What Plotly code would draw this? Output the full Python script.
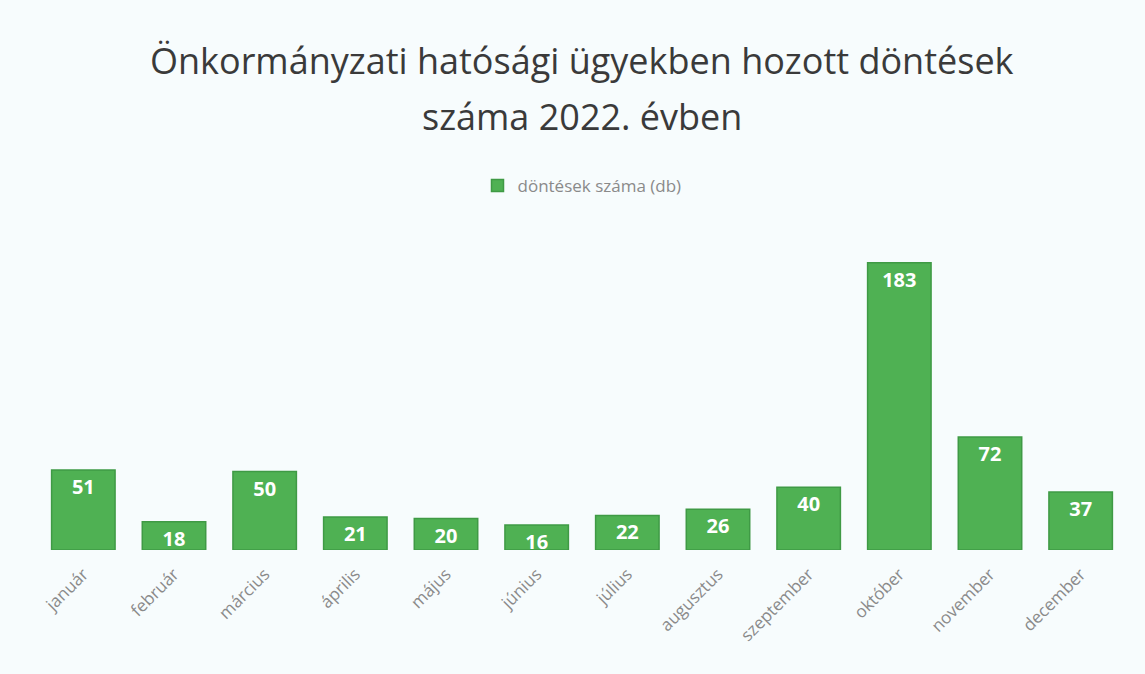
import plotly.graph_objects as go

honapok = ["január", "február", "március", "április", "május", "június",
           "július", "augusztus", "szeptember", "október", "november", "december"]
dontesek = [51, 18, 50, 21, 20, 16, 22, 26, 40, 183, 72, 37]

cim_sorok = ["Önkormányzati hatósági ügyekben hozott döntések", "száma 2022. évben"]

fig = go.Figure()
fig.add_trace(
    go.Bar(
        x=honapok,
        y=dontesek,
        name="döntések száma (db)",
        marker=dict(color="#4fb153", line=dict(color="#3f9a45", width=1.5)),
        text=dontesek,
        textposition="inside",
        insidetextanchor="end",
        textangle=0,
        constraintext="none",
        textfont=dict(color="white", size=20, family="Open Sans"),
        texttemplate="<b>%{text}</b>",
    )
)

# title as two lines, to get the wide line spacing of the original
for i, sor in enumerate(cim_sorok):
    fig.add_annotation(
        text=sor,
        xref="paper", yref="paper",
        x=0.5, y=1.0 + (236 - 60 - 56 * i) / 314,
        xanchor="center", yanchor="middle",
        showarrow=False,
        font=dict(size=36, color="#3a3a3a", family="Open Sans"),
    )

fig.update_layout(
    width=1145,
    height=674,
    showlegend=True,
    legend=dict(
        orientation="h",
        x=0.5,
        xanchor="center",
        y=1.0 + (236 - 186) / 314,
        yanchor="middle",
        font=dict(size=17, color="#8a8a8a", family="Open Sans"),
    ),
    paper_bgcolor="#f7fcfd",
    plot_bgcolor="#f7fcfd",
    margin=dict(l=38, r=19, t=236, b=124),
    bargap=0.3,
    xaxis=dict(
        tickangle=-45,
        tickfont=dict(size=17, color="#8a8a8a", family="Open Sans"),
        showgrid=False,
        showline=False,
        ticks="",
        ticklabelstandoff=10,
    ),
    yaxis=dict(range=[0, 200], visible=False, showgrid=False),
)

fig.write_html(
    "out.html",
    config={"displayModeBar": False},
    post_script="document.body.style.margin='0';",
)
